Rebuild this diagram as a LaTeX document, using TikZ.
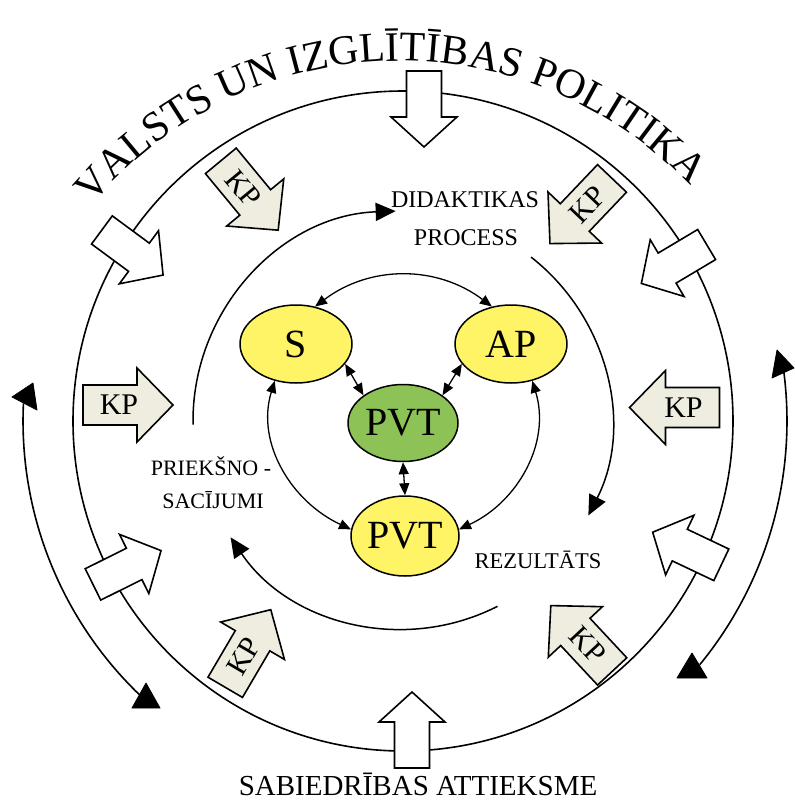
\documentclass[tikz,border=0pt]{standalone}
\usepackage{fontspec}
\setmainfont{Liberation Serif}
\usetikzlibrary{arrows.meta,calc,shapes.geometric,decorations.text}

\definecolor{kpfill}{RGB}{239,237,224}
\definecolor{nodeyellow}{RGB}{255,243,102}
\definecolor{nodegreen}{RGB}{141,195,86}

\newcommand\setfs[1]{\fontsize{#1}{#1}\selectfont}

\tikzset{
  x=1pt, y=1pt,
  blockline/.style={draw=black, line width=1.6pt, line join=miter},
  kpbody/.style={blockline, fill=kpfill},
  whitebody/.style={blockline, fill=white},
  kptext/.style={font=\setfs{30}, inner sep=0pt},
  ringline/.style={line width=1.6pt},
  cyclearc/.style={line width=1.5pt, -{Triangle[length=20pt,width=18pt]}},
  bubble/.style={ellipse, draw, line width=1.5pt, minimum width=112pt,
    minimum height=78pt, inner sep=0pt, font=\setfs{40}},
  link/.style={line width=1.3pt,
    {Triangle[length=12pt,width=10pt]}-{Triangle[length=12pt,width=10pt]}},
  lbl/.style={inner sep=0pt, anchor=base},
  headtri/.style={fill=black, draw=black, line width=0.8pt, line join=round},
}

% beige block arrow labelled KP: #1 name, #2 centre, #3 direction, #4 text angle
\newcommand\KParrow[4]{%
  \begin{scope}[shift={(#2)}, rotate=#3]
    \path[kpbody] (-45,-20) -- (9,-20) -- (9,-37) -- (45,0) -- (9,37)
      -- (9,20) -- (-45,20) -- cycle;
  \end{scope}
  \node[kptext, rotate=#4] (#1) at ($(#2)+(#3:-9)$) {KP};
}

% plain white block arrow lying across the ring: #1 centre, #2 direction
\newcommand\WhiteArrow[2]{%
  \begin{scope}[shift={(#1)}, rotate=#2]
    \path[whitebody] (-38,-17.5) -- (8,-17.5) -- (8,-33) -- (38,0) -- (8,33)
      -- (8,17.5) -- (-38,17.5) -- cycle;
  \end{scope}
}

\begin{document}
\begin{tikzpicture}
\useasboundingbox (0,0) rectangle (795,-804);

\coordinate (C) at (403,-421);
\coordinate (T) at (400,-461);

% title bent along the top
\path[decorate, decoration={text along path, text align=center,
  text={|\setfs{42}|VALSTS UN IZGLĪTĪBAS POLITIKA}}]
  ($(T)+(150:400)$) arc[start angle=150, end angle=33.6, radius=400];

% main ring
\draw[ringline] (C) circle[radius=330];

% outer two-way arcs
\coordinate (oL1) at ($(C)+(177.35:380)$);
\coordinate (oR1) at ($(C)+(7.2:384)$);
\draw[ringline] (oL1) arc[start angle=177.35, end angle=226.06, radius=380];
\draw[ringline] (oR1) arc[start angle=7.2, end angle=-39.4, radius=384];
\path[headtri] (12,-397) -- (33,-383) -- (37,-410) -- cycle;
\path[headtri] (132,-708) -- (160,-708) -- (146,-683) -- cycle;
\path[headtri] (772,-378) -- (777,-350) -- (794,-368) -- cycle;
\path[headtri] (677,-678) -- (707,-678) -- (692,-653) -- cycle;

% white arrows crossing the ring
\WhiteArrow{424,-109}{-90}
\WhiteArrow{132.5,-252.5}{-36.4}
\WhiteArrow{674,-264}{210.8}
\WhiteArrow{127,-567.5}{26.4}
\WhiteArrow{687,-548.5}{154.6}
\WhiteArrow{412,-730}{90}

% KP arrows
\KParrow{kpL}{128,-405}{0}{0}
\KParrow{kpR}{674.5,-407.5}{180}{0}
\KParrow{kpTL}{249.5,-195.5}{-50.4}{-50.4}
\KParrow{kpTR}{581,-211}{-133.6}{46.4}
\KParrow{kpBL}{248,-648.5}{59.6}{59.6}
\KParrow{kpBR}{581.5,-638.5}{133}{-47}

% didactic cycle
\coordinate (cyA) at ($(C)+(181:210)$);
\coordinate (cyB) at ($(C)+(52:208)$);
\coordinate (cyC) at ($(C)+(-63:208)$);
\draw[cyclearc] (cyA) arc[start angle=181, end angle=92, radius=210];
\draw[cyclearc] (cyB) arc[start angle=52, end angle=-27, radius=208];
\draw[cyclearc] (cyC) arc[start angle=-63, end angle=-146, radius=208];

\node[lbl, font=\setfs{24}] (did1) at (465,-207) {DIDAKTIKAS};
\node[lbl, font=\setfs{24}] (did2) at (466,-245) {PROCESS};
\node[lbl, font=\setfs{22}] (pre1) at (211,-475) {PRIEKŠNO -};
\node[lbl, font=\setfs{22}] (pre2) at (213,-508) {SACĪJUMI};
\node[lbl, font=\setfs{22.5}] (rez) at (538,-568) {REZULTĀTS};
\node[lbl, font=\setfs{29}] (soc) at (418,-795) {SABIEDRĪBAS ATTIEKSME};

% central nodes
\node[bubble, fill=nodeyellow] (S) at (296,-344) {S};
\node[bubble, fill=nodeyellow] (AP) at (511,-344) {AP};
\node[bubble, fill=nodegreen, minimum width=110pt, minimum height=77pt] (G) at (403,-423) {PVT};
\node[bubble, fill=nodeyellow, minimum width=108pt, minimum height=80pt] (B) at (405,-536) {PVT};

\draw[link] (S.63) to[out=37, in=143] (AP.117);
\draw[link] (S.240) to[out=253, in=155] (B.173);
\draw[link] (AP.300) to[out=287, in=25] (B.7);
\draw[link] (S.-22) -- (G.145);
\draw[link] (AP.202) -- (G.35);
\draw[link] (G.south) -- (B.north);

\end{tikzpicture}
\end{document}
